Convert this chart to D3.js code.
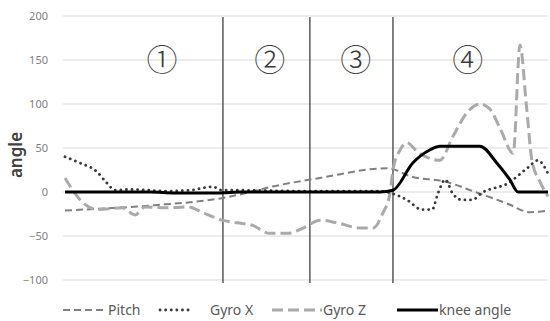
<!DOCTYPE html>
<html><head><meta charset="utf-8">
<script src="https://cdn.jsdelivr.net/npm/d3@7"></script>
<style>body{margin:0;background:#fff}svg{display:block}</style>
</head><body>
<svg id="c" width="550" height="321"></svg>
<script>
const yTicks = [200,150,100,50,0,-50,-100];
const phaseLines = [32.7, 50.7, 67.9];
const phaseLabels = ["①","②","③","④"];
const phaseLabelPos = [20.1, 42.4, 60.2, 83.4];

const pitchT = [0,7.2,18.6,32.5,44.5,52.8,66.7,72.0,78.6,84.9,91.5,96.3,100];
const pitchV = [-21,-19,-15,-7,8,16,27,17,12,0,-13,-23,-21];

const gyroXT = [0,3.1,6.6,8.7,10.4,13.5,17.6,20.7,25.9,29.0,30.6,32.5,36.2,48.7,65.2,67.9,70.8,73.9,76.0,77.2,78.7,80.3,82.2,84.3,86.3,91.7,95.9,97.9,100];
const gyroXV = [40,33,23,10,2,3,2,1,2,5,6,2,2,1,1,-2,-9,-20,-20,-2,14,-2,-9,-9,-1,10,28,36,21];

const gyroZT = [0,3.5,6.8,11.8,14.5,16.6,20.7,25.5,28.4,32.5,35.6,38.9,42.4,46.0,49.3,52.8,56.3,61.1,63.8,65.8,67.3,67.9,69.4,70.8,72.9,75.6,77.6,80.3,83.2,85.9,88.0,90.1,92.8,94.2,95.5,96.7,98.3,100];
const gyroZV = [16,-11,-20,-18,-26,-17,-18,-17,-23,-32,-35,-38,-47,-47,-41,-32,-35,-41,-41,-24,-1,25,48,56,46,38,36,63,90,100,94,72,44,167,100,35,12,-5];

const kneeT = [0,17.6,22.8,32.1,36.2,65.2,67.9,72.0,75.6,77.6,85.9,89.4,92.1,93.8,100];
const kneeV = [0,0,-1,-1,0,0,2,33,48,52,52,33,14,0,0];

const seriesNames = ["Pitch","Gyro X","Gyro Z","knee angle"];

const svg = d3.select("#c");
const x = d3.scaleLinear().domain([0,100]).range([65,548]);
const y = d3.scaleLinear().domain([-100,200]).range([280,16]);

// gridlines
svg.append("g").selectAll("line").data(yTicks).join("line")
  .attr("x1",63).attr("x2",548).attr("y1",d=>y(d)).attr("y2",d=>y(d))
  .attr("stroke","#d9d9d9").attr("stroke-width",1);

// y axis labels
const yAxis = d3.axisLeft(y).tickValues(yTicks).tickSize(0).tickPadding(0);
const ga = svg.append("g").attr("transform","translate(48,0)").call(yAxis);
ga.select(".domain").remove();
ga.selectAll("text").attr("fill","#7f7f7f").attr("font-size","11px")
  .attr("font-family","'Noto Sans', 'DejaVu Sans', sans-serif");

svg.append("text").attr("transform","translate(22,"+155+") rotate(-90)")
  .attr("text-anchor","middle").attr("font-size","17px").attr("font-weight","600")
  .attr("fill","#404040").attr("font-family","'Noto Sans', sans-serif").text("angle");

// phase lines
svg.append("g").selectAll("line").data(phaseLines).join("line")
  .attr("x1",d=>x(d)).attr("x2",d=>x(d)).attr("y1",y(200)+1).attr("y2",y(-100)+3)
  .attr("stroke","#404040").attr("stroke-width",1.3);

svg.append("g").selectAll("text").data(phaseLabels).join("text")
  .attr("x",(d,i)=>x(phaseLabelPos[i])).attr("y",y(150)+11)
  .attr("text-anchor","middle").attr("font-size","31px").attr("font-weight","300").attr("fill","#3a3a3a")
  .attr("font-family","'Noto Sans CJK KR', sans-serif").text(d=>d);

const line = d3.line().x(d=>x(d[0])).y(d=>y(d[1])).curve(d3.curveMonotoneX);
const zip = (t,v)=>t.map((d,i)=>[d,v[i]]);

const styles = [
  {t:pitchT,v:pitchV,color:"#808080",w:2,dash:"7,4",cap:"butt"},
  {t:gyroXT,v:gyroXV,color:"#3a3a3a",w:2.8,dash:"0.1,5.5",cap:"round"},
  {t:gyroZT,v:gyroZV,color:"#aaaaaa",w:3,dash:"11,5",cap:"butt"},
  {t:kneeT,v:kneeV,color:"#000",w:3,dash:null,cap:"butt"}
];
const drawOrder = [0,2,1,3];
drawOrder.forEach(i=>{
  const s = styles[i];
  svg.append("path").datum(zip(s.t,s.v)).attr("d",line)
    .attr("fill","none").attr("stroke",s.color).attr("stroke-width",s.w)
    .attr("stroke-dasharray",s.dash).attr("stroke-linecap",s.cap);
});

// legend
const legX = [[63,105,108],[160,191,210],[272,322,323],[397,438,439]];
const lg = svg.append("g");
seriesNames.forEach((n,i)=>{
  const s = styles[i];
  const ly = 310;
  lg.append("line").attr("x1",legX[i][0]).attr("x2",legX[i][1]).attr("y1",ly).attr("y2",ly)
    .attr("stroke",s.color).attr("stroke-width",s.w).attr("stroke-dasharray",s.dash)
    .attr("stroke-linecap",s.cap);
  lg.append("text").attr("x",legX[i][2]).attr("y",ly+5).attr("font-size","14px")
    .attr("fill","#595959").attr("font-family","'Noto Sans', sans-serif").text(n);
});
</script>
</body></html>
